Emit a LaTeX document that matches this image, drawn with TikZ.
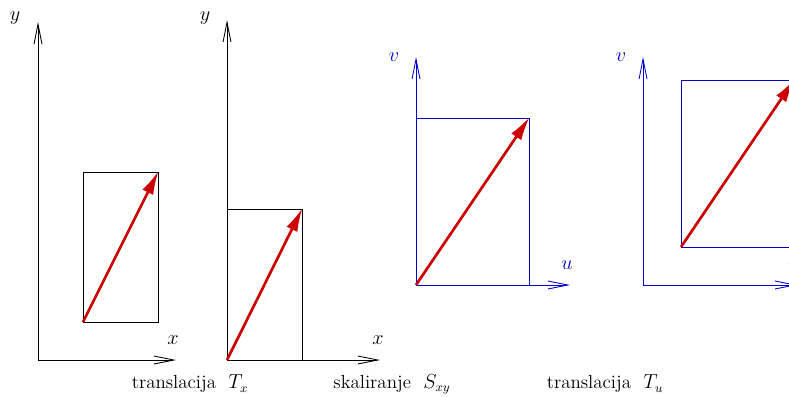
\documentclass[tikz,border=0pt]{standalone}
\usepackage{amsmath}
\usepackage{amssymb}
\usepackage{tikz}
\usetikzlibrary{arrows.meta}

\definecolor{axblue}{rgb}{0,0,0.8}
\definecolor{vecred}{rgb}{0.8,0,0}

\tikzset{
  axis/.style={line width=0.6pt, -{Straight Barb[length=5mm, width=2mm]}},
  box/.style={line width=0.5pt},
  vec/.style={vecred, line width=1.9pt, -{Latex[length=6mm, width=3mm]}, shorten >=-1pt},
  lab/.style={font=\fontsize{13.5}{16}\selectfont}
}

\begin{document}
\begin{tikzpicture}[thick]
            \useasboundingbox (0,0) rectangle (19.725,9.9);

            % prvi sustav
            \coordinate (o1) at (0.95,0.9);
            \coordinate (y1) at (0.95,9.35);
            \coordinate (x1) at (4.4,0.9);
            \coordinate (a1) at (2.075,1.85);
            \coordinate (b1) at (3.95,5.6);
            \node[lab] (ly1) at (0.375,9.45) {$y$};
            \node[lab] (lx1) at (4.325,1.4) {$x$};

            \draw[axis] (o1) -- (y1);
            \draw[axis] (o1) -- (x1);
            \draw[box] (a1) rectangle (b1);
            \draw[vec] (a1) -- (b1);

            % drugi sustav
            \coordinate (o2) at (5.675,0.9);
            \coordinate (y2) at (5.675,9.4);
            \coordinate (x2) at (9.5,0.9);
            \coordinate (b2) at (7.55,4.675);
            \node[lab] (ly2) at (5.125,9.45) {$y$};
            \node[lab] (lx2) at (9.45,1.4) {$x$};

            \draw[axis] (o2) -- (y2);
            \draw[axis] (o2) -- (x2);
            \draw[box] (o2) rectangle (b2);
            \draw[vec] (o2) -- (b2);

            % treci sustav
            \coordinate (o3) at (10.4,2.775);
            \coordinate (v3) at (10.4,8.475);
            \coordinate (u3) at (14.25,2.775);
            \coordinate (b3) at (13.225,6.95);
            \node[lab, axblue] (lv3) at (9.85,8.475) {$v$};
            \node[lab, axblue] (lu3) at (14.175,3.275) {$u$};

            \draw[axis, axblue] (o3) -- (v3);
            \draw[axis, axblue] (o3) -- (u3);
            \draw[box, axblue] (o3) rectangle (b3);
            \draw[vec] (o3) -- (b3);

            % cetvrti sustav
            \coordinate (o4) at (16.075,2.775);
            \coordinate (v4) at (16.075,8.475);
            \coordinate (u4) at (19.925,2.775);
            \coordinate (a4) at (17.025,3.725);
            \coordinate (b4) at (19.85,7.9);
            \node[lab, axblue] (lv4) at (15.525,8.475) {$v$};
            \node[lab, axblue] (lu4) at (19.85,3.275) {$u$};

            \draw[axis, axblue] (o4) -- (v4);
            \draw[axis, axblue] (o4) -- (u4);
            \draw[box, axblue] (a4) rectangle (b4);
            \draw[vec] (a4) -- (b4);

            % natpisi
            \node[lab] (t1) at (4.75,0.3) {translacija~~$T_x$};
            \node[lab] (t2) at (9.8,0.3) {skaliranje~~$S_{xy}$};
            \node[lab] (t3) at (15.125,0.3) {translacija~~$T_u$};
        \end{tikzpicture}
\end{document}
